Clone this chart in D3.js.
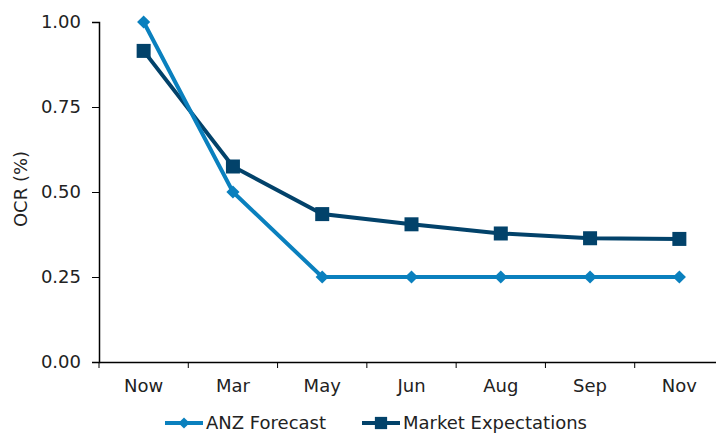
<!DOCTYPE html>
<html>
<head>
  <meta charset="utf-8">
  <title>OCR: ANZ Forecast vs Market Expectations</title>
  <script src="https://d3js.org/d3.v7.min.js"></script>
  <style>
    body { margin: 0; background: #fff; }
    text { font-family: "DejaVu Sans", Verdana, sans-serif; fill: #222; }
  </style>
</head>
<body>
  <script>
    // Data
    var months = ["Now", "Mar", "May", "Jun", "Aug", "Sep", "Nov"];
    var anzForecast = [1.00, 0.50, 0.25, 0.25, 0.25, 0.25, 0.25];
    var marketExpectations = [0.915, 0.575, 0.435, 0.405, 0.378, 0.364, 0.362];
    var yTicks = [0, 0.25, 0.5, 0.75, 1.0];

    var anzColor = "#0a80be";
    var mktColor = "#02426a";

    var width = 716, height = 435;
    var svg = d3.select("body").append("svg")
      .attr("width", width)
      .attr("height", height);

    // plot area: left 99, top 22, bottom 362; category bands continue past the right edge
    var x = d3.scaleBand().domain(months).range([99, 724]);
    var y = d3.scaleLinear().domain([0, 1]).range([362, 22]);

    var yAxis = d3.axisLeft(y).tickValues(yTicks)
      .tickFormat(d3.format(".2f")).tickSizeOuter(0).tickSize(7).tickPadding(11);
    var gy = svg.append("g").attr("transform", "translate(99,0)").call(yAxis);

    var xAxis = d3.axisBottom(x).tickSizeOuter(0).tickSize(0).tickPadding(17);
    var gx = svg.append("g").attr("transform", "translate(0,362)").call(xAxis);

    // tick marks sit on the band edges, not the centres
    gx.selectAll(".edge").data(months).enter().append("line")
      .attr("class", "edge")
      .attr("x1", function(d) { return x(d); })
      .attr("x2", function(d) { return x(d); })
      .attr("y1", 0).attr("y2", 6)
      .attr("stroke", "#000");

    svg.selectAll(".domain").attr("stroke", "#000").attr("stroke-width", 1.5);
    svg.selectAll(".tick line").attr("stroke", "#000");
    svg.selectAll(".tick text").style("font-size", "18px").attr("fill", "#222");

    svg.append("text")
      .attr("transform", "translate(27,189) rotate(-90)")
      .attr("text-anchor", "middle")
      .style("font-size", "18px")
      .text("OCR (%)");

    var cx = function(d, i) { return x(months[i]) + x.bandwidth() / 2; };

    var line = d3.line()
      .x(function(d, i) { return x(months[i]) + x.bandwidth() / 2; })
      .y(function(d) { return y(d); });

    // Market expectations (drawn under)
    svg.append("path").datum(marketExpectations)
      .attr("d", line).attr("fill", "none")
      .attr("stroke", mktColor).attr("stroke-width", 4);

    svg.append("path").datum(anzForecast)
      .attr("d", line).attr("fill", "none")
      .attr("stroke", anzColor).attr("stroke-width", 4);

    svg.selectAll(".mkt").data(marketExpectations).enter().append("rect")
      .attr("class", "mkt")
      .attr("x", function(d, i) { return cx(d, i) - 7; })
      .attr("y", function(d) { return y(d) - 7; })
      .attr("width", 14).attr("height", 14)
      .attr("fill", mktColor);

    var diamond = d3.symbol().type(d3.symbolDiamond2 || d3.symbolDiamond).size(110);
    svg.selectAll(".anz").data(anzForecast).enter().append("path")
      .attr("class", "anz")
      .attr("d", diamond)
      .attr("transform", function(d, i) {
        return "translate(" + cx(d, i) + "," + y(d) + ")";
      })
      .attr("fill", anzColor);

    // Legend
    var legend = [
      { name: "ANZ Forecast", color: anzColor, x: 165, shape: "diamond" },
      { name: "Market Expectations", color: mktColor, x: 362, shape: "square" }
    ];
    var ly = 423;
    var lg = svg.selectAll(".leg").data(legend).enter().append("g").attr("class", "leg");
    lg.append("line")
      .attr("x1", function(d) { return d.x; })
      .attr("x2", function(d) { return d.x + 38; })
      .attr("y1", ly).attr("y2", ly)
      .attr("stroke", function(d) { return d.color; })
      .attr("stroke-width", 4);
    lg.append("path")
      .attr("d", function(d) {
        return d.shape === "square"
          ? d3.symbol().type(d3.symbolSquare).size(150)()
          : d3.symbol().type(d3.symbolDiamond2 || d3.symbolDiamond).size(80)();
      })
      .attr("transform", function(d) { return "translate(" + (d.x + 19) + "," + ly + ")"; })
      .attr("fill", function(d) { return d.color; });
    lg.append("text")
      .attr("x", function(d) { return d.x + 41; })
      .attr("y", ly)
      .attr("dy", "0.35em")
      .style("font-size", "18px")
      .text(function(d) { return d.name; });
  </script>
</body>
</html>
